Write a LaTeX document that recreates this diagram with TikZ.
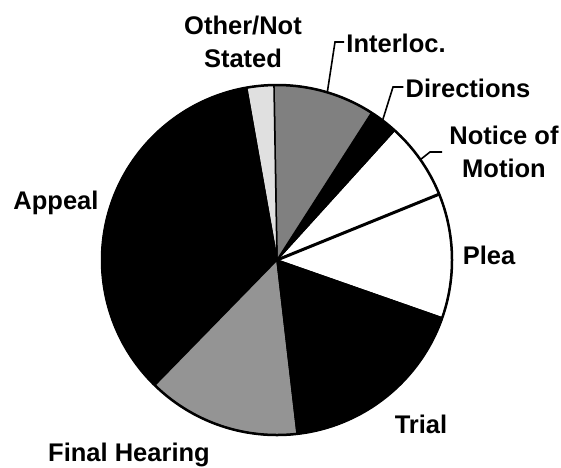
\documentclass[tikz,border=0pt]{standalone}
\usepackage{fontspec}
\setmainfont{Liberation Sans}
\begin{document}
\begin{tikzpicture}[x=1pt,y=1pt,
  lbl/.style={font=\bfseries\fontsize{25.5}{32.5}\selectfont, inner sep=2pt, align=center},
  sl/.style={draw=black, line width=1.5pt, line join=round},
  leader/.style={draw=black, line width=1.6pt, line join=miter}]
\useasboundingbox (0,0) rectangle (561,-467);
\coordinate (c) at (277,-260);
\newcommand\pieslice[3]{\filldraw[sl, fill=#3] (c) -- ([shift={(#1:175pt)}]c) arc[start angle=#1, end angle=#2, radius=175pt] -- cycle;}
% slices
\pieslice{-19.3}{22.1}{white}
\pieslice{22.1}{47.8}{white}
\pieslice{47.8}{57.3}{black}
\pieslice{57.3}{91}{black!50}
\pieslice{91}{100}{black!12}
\pieslice{100}{225.7}{black}
\pieslice{225.7}{276.6}{black!42}
\pieslice{276.6}{340.7}{black}
\coordinate (pNP) at ([shift={(22.1:175pt)}]c);
\draw[line width=3pt] (c) -- (pNP);
\draw[line width=2.5pt] (c) circle[radius=175pt];
% labels (multi-line nodes: base = baseline of last line)
\node[lbl, anchor=base] (lOther) at (243,-67) {Other/Not\\Stated};
\node[lbl, anchor=base] (lInt) at (396,-52) {Interloc.};
\node[lbl, anchor=base] (lDir) at (468,-97) {Directions};
\node[lbl, anchor=base] (lNot) at (504,-177) {Notice of\\Motion};
\node[lbl, anchor=base] (lPlea) at (489,-264) {Plea};
\node[lbl, anchor=base] (lTrial) at (421,-433) {Trial};
\node[lbl, anchor=base] (lFH) at (129,-461) {Final Hearing};
\node[lbl, anchor=base] (lApp) at (56,-209) {Appeal};
% leaders
\coordinate (pInt) at ([shift={(73.3:175pt)}]c);
\coordinate (kInt) at (335,-42);
\draw[leader] (pInt) -- (kInt) -- (kInt -| lInt.west);
\coordinate (pDir) at ([shift={(52.9:175pt)}]c);
\coordinate (kDir) at (393,-87);
\draw[leader] (pDir) -- (kDir) -- (kDir -| lDir.west);
\coordinate (pNot) at ([shift={(35:175pt)}]c);
\coordinate (kNot) at (430,-152);
\coordinate (eNot) at (442,-152);
\draw[leader] (pNot) -- (kNot) -- (eNot);
\end{tikzpicture}
\end{document}
